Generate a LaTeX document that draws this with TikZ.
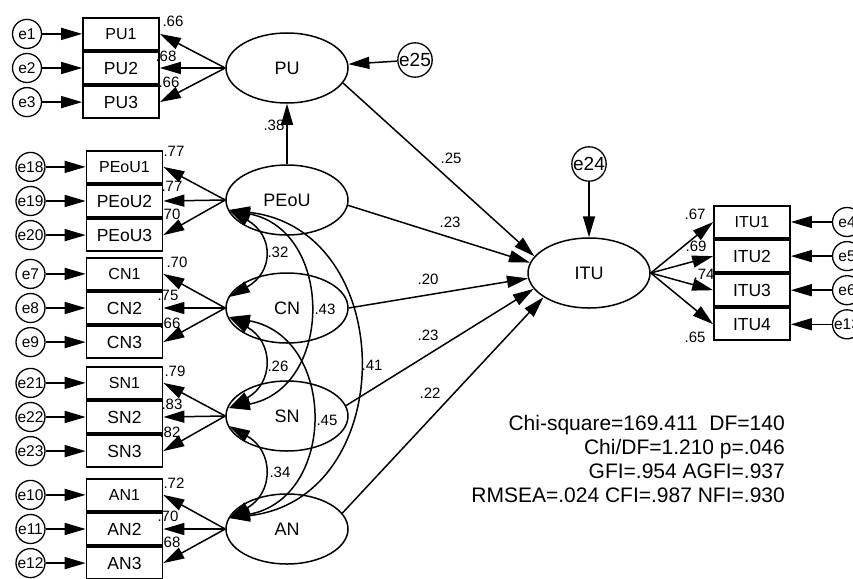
\documentclass[tikz,border=0pt]{standalone}
\usepackage{fontspec}
\setmainfont{Liberation Sans}
\usetikzlibrary{positioning, arrows.meta, shapes.geometric}

\begin{document}
\begin{tikzpicture}[x=1pt, y=-1pt,
  latent/.style={draw, ellipse, minimum width=122pt, minimum height=70pt, line width=1.5pt,
                 inner sep=0pt, font=\fontsize{18}{20}\selectfont},
  ind/.style={draw, rectangle, minimum width=76pt, minimum height=32pt, line width=1.7pt,
              inner sep=0pt, font=\fontsize{16}{18}\selectfont},
  indb/.style={ind, font=\fontsize{17.5}{19}\selectfont},
  err/.style={draw, circle, minimum size=29pt, line width=1.3pt, inner sep=0pt,
              font=\fontsize{15.5}{17}\selectfont},
  errb/.style={err, font=\fontsize{19}{21}\selectfont},
  arr/.style={-{Triangle[length=21pt, width=12pt]}, line width=1.5pt},
  cov/.style={{Triangle[length=21pt, width=12pt]}-{Triangle[length=21pt, width=12pt]}, line width=1.5pt},
  coef/.style={font=\fontsize{15}{16}\selectfont, inner sep=0pt},
  stats/.style={align=right, inner sep=0pt, font=\fontsize{21}{24}\selectfont},
]
\useasboundingbox (0,0) rectangle (853,578);

% Latent variables
\node[latent] (pu)   at (287,68)  {PU};
\node[latent] (peou) at (287,200) {PEoU};
\node[latent] (cn)   at (287,308) {CN};
\node[latent] (sn)   at (287,416) {SN};
\node[latent] (an)   at (287,529) {AN};
\node[latent] (itu)  at (589,273) {ITU};

% Disturbances
\node[errb] (e25) at (415,60)  {e25};
\node[errb] (e24) at (589,164) {e24};

% PU indicators
\node[indb] (pu2) at (121,68) {PU2};
\node[ind, above=0.4pt of pu2] (pu1) {PU1};
\node[indb, below=0.4pt of pu2] (pu3) {PU3};
\node[err, left=40pt of pu1] (e1) {e1};
\node[err, left=40pt of pu2] (e2) {e2};
\node[err, left=40pt of pu3] (e3) {e3};

% PEoU indicators
\node[indb] (peou2) at (124.5,201) {PEoU2};
\node[ind, above=0.4pt of peou2] (peou1) {PEoU1};
\node[indb, below=0.4pt of peou2] (peou3) {PEoU3};
\node[err, left=40pt of peou1] (e18) {e18};
\node[err, left=40pt of peou2] (e19) {e19};
\node[err, left=40pt of peou3] (e20) {e20};

% CN indicators
\node[indb] (cn2) at (124.5,308) {CN2};
\node[ind, above=0.4pt of cn2] (cn1) {CN1};
\node[indb, below=0.4pt of cn2] (cn3) {CN3};
\node[err, left=40pt of cn1] (e7) {e7};
\node[err, left=40pt of cn2] (e8) {e8};
\node[err, left=40pt of cn3] (e9) {e9};

% SN indicators
\node[indb] (sn2) at (124.5,417) {SN2};
\node[ind, above=0.4pt of sn2] (sn1) {SN1};
\node[indb, below=0.4pt of sn2] (sn3) {SN3};
\node[err, left=40pt of sn1] (e21) {e21};
\node[err, left=40pt of sn2] (e22) {e22};
\node[err, left=40pt of sn3] (e23) {e23};

% AN indicators
\node[indb] (an2) at (124.5,529) {AN2};
\node[ind, above=0.4pt of an2] (an1) {AN1};
\node[indb, below=0.4pt of an2] (an3) {AN3};
\node[err, left=40pt of an1] (e10) {e10};
\node[err, left=40pt of an2] (e11) {e11};
\node[err, left=40pt of an3] (e12) {e12};

% ITU indicators
\node[ind] (itu1) at (752,222) {ITU1};
\node[indb, below=0.4pt of itu1] (itu2) {ITU2};
\node[indb, below=0.4pt of itu2] (itu3) {ITU3};
\node[indb, below=0.4pt of itu3] (itu4) {ITU4};
\node[err, right=41pt of itu1] (e4) {e4};
\node[err, right=41pt of itu2] (e5) {e5};
\node[err, right=41pt of itu3] (e6) {e6};
\node[err, right=41pt of itu4] (e13) {e13};

% Error arrows
\draw[arr] (e1) -- (pu1);   \draw[arr] (e2) -- (pu2);   \draw[arr] (e3) -- (pu3);
\draw[arr] (e18) -- (peou1); \draw[arr] (e19) -- (peou2); \draw[arr] (e20) -- (peou3);
\draw[arr] (e7) -- (cn1);   \draw[arr] (e8) -- (cn2);   \draw[arr] (e9) -- (cn3);
\draw[arr] (e21) -- (sn1);  \draw[arr] (e22) -- (sn2);  \draw[arr] (e23) -- (sn3);
\draw[arr] (e10) -- (an1);  \draw[arr] (e11) -- (an2);  \draw[arr] (e12) -- (an3);
\draw[arr] (e4) -- (itu1);  \draw[arr] (e5) -- (itu2);  \draw[arr] (e6) -- (itu3);
\draw[arr] (e13) -- (itu4);

% Loadings
\draw[arr] (pu.west) -- (pu1.east);   \draw[arr] (pu.west) -- (pu2.east);   \draw[arr] (pu.west) -- (pu3.east);
\draw[arr] (peou.west) -- (peou1.east); \draw[arr] (peou.west) -- (peou2.east); \draw[arr] (peou.west) -- (peou3.east);
\draw[arr] (cn.west) -- (cn1.east);   \draw[arr] (cn.west) -- (cn2.east);   \draw[arr] (cn.west) -- (cn3.east);
\draw[arr] (sn.west) -- (sn1.east);   \draw[arr] (sn.west) -- (sn2.east);   \draw[arr] (sn.west) -- (sn3.east);
\draw[arr] (an.west) -- (an1.east);   \draw[arr] (an.west) -- (an2.east);   \draw[arr] (an.west) -- (an3.east);
\draw[arr] (itu.east) -- (itu1.west); \draw[arr] (itu.east) -- (itu2.west); \draw[arr] (itu.east) -- (itu3.west);
\draw[arr] (itu.east) -- (itu4.west);

% Loading values
\node[coef] (c-pu1) at (173,21) {.66};   \node[coef] (c-pu2) at (166,56) {.68};   \node[coef] (c-pu3) at (169,82) {.66};
\node[coef] (c-peou1) at (174,151) {.77}; \node[coef] (c-peou2) at (172,186) {.77}; \node[coef] (c-peou3) at (170,214) {.70};
\node[coef] (c-cn1) at (177,262) {.70};  \node[coef] (c-cn2) at (168,295) {.75};  \node[coef] (c-cn3) at (170,323) {.66};
\node[coef] (c-sn1) at (175,371) {.79};  \node[coef] (c-sn2) at (172,404) {.83};  \node[coef] (c-sn3) at (170,432) {.82};
\node[coef] (c-an1) at (174,483) {.72};  \node[coef] (c-an2) at (168,516) {.70};  \node[coef] (c-an3) at (170,542) {.68};
\node[coef] (c-itu1) at (695,214) {.67}; \node[coef] (c-itu2) at (696,246) {.69};
\node[coef] (c-itu3) at (704,274) {.74}; \node[coef] (c-itu4) at (695,337) {.65};

% Structural paths
\draw[arr] (peou) -- (pu);
\draw[arr] (e25) -- (pu);
\draw[arr] (e24) -- (itu);
\draw[arr] (pu.-15) -- (itu.163);
\draw[arr] (peou.-5) -- (itu.170);
\draw[arr] (cn.east) -- (itu.185);
\draw[arr] (sn.10) -- (itu.196);
\draw[arr] (an.16) -- (itu.208);

\node[coef] (c-pu) at (274,125) {.38};
\node[coef] (c-pu-itu) at (451,158) {.25};
\node[coef] (c-peou-itu) at (450,222) {.23};
\node[coef] (c-cn-itu) at (428,279) {.20};
\node[coef] (c-sn-itu) at (428,335) {.23};
\node[coef] (c-an-itu) at (430,393) {.22};

% Covariances
\coordinate (peou-lo) at (229,210);
\coordinate (cn-hi) at (229,297);
\coordinate (cn-lo) at (229,317);
\coordinate (sn-hi) at (229,408);
\coordinate (sn-lo) at (229,426);
\coordinate (an-hi) at (229,518);

\draw[cov] (peou-lo) .. controls +(45,25) and +(45,-25) .. (cn-hi);
\draw[cov] (cn-lo) .. controls +(45,25) and +(45,-25) .. (sn-hi);
\draw[cov] (sn-lo) .. controls +(45,25) and +(45,-25) .. (an-hi);
\draw[cov] (peou-lo) .. controls +(105,20) and +(105,-20) .. (sn-hi);
\draw[cov] (cn-lo) .. controls +(108,20) and +(108,-20) .. (an-hi);
\draw[cov] (peou-lo) .. controls +(171,20) and +(171,-20) .. (an-hi);

\node[coef] (c-peou-cn) at (278,252) {.32};
\node[coef] (c-cn-sn) at (278,366) {.26};
\node[coef] (c-sn-an) at (280,472) {.34};
\node[coef] (c-peou-sn) at (325,309) {.43};
\node[coef] (c-cn-an) at (327,420) {.45};
\node[coef] (c-peou-an) at (372,365) {.41};

% Fit indices
\node[stats, anchor=east] (gof) at (785,459)
  {Chi-square=169.411\ \ DF=140\\Chi/DF=1.210\ p=.046\\GFI=.954 AGFI=.937\\RMSEA=.024 CFI=.987 NFI=.930};

\end{tikzpicture}
\end{document}
